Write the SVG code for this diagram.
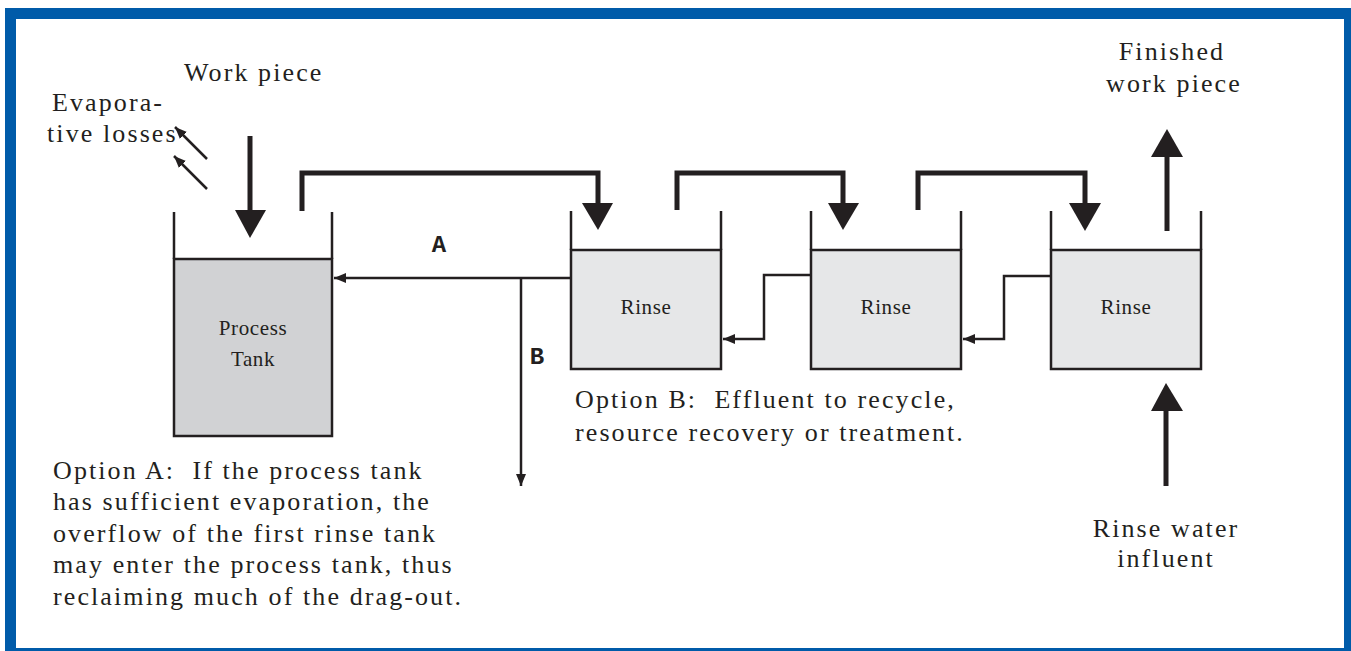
<svg xmlns="http://www.w3.org/2000/svg" width="1351" height="651" viewBox="0 0 1351 651">
<style>
.t{font-family:"Liberation Serif","Times New Roman",serif;font-size:26px;fill:#231f20;letter-spacing:2.1px;white-space:pre}
.s{font-family:"Liberation Serif","Times New Roman",serif;font-size:21px;fill:#231f20;letter-spacing:0.6px}
.m{font-family:"Liberation Mono","Courier New",monospace;font-size:24px;font-weight:bold;fill:#231f20}
.wall{fill:none;stroke:#231f20;stroke-width:2.5}
.thick{fill:none;stroke:#231f20;stroke-width:5}
.thin{fill:none;stroke:#231f20;stroke-width:2.5}
.head{fill:#231f20}
</style>
<defs>
<marker id="sm" viewBox="0 0 12 10" refX="12" refY="5" markerWidth="12" markerHeight="10" markerUnits="userSpaceOnUse" orient="auto">
<path d="M0,0 L12,5 L0,10 Z" fill="#231f20"/>
</marker>
</defs>
<rect x="5" y="8" width="1346" height="643" fill="#005ba9"/>
<rect x="16" y="19" width="1328" height="629" fill="#ffffff"/>

<g id="process-tank">
<rect x="174" y="259" width="158" height="177" fill="#d1d2d4" stroke="#231f20" stroke-width="2.5"/>
<path class="wall" d="M174,212 V259 M332,212 V259"/>
<text class="s" x="253" y="335" text-anchor="middle">Process</text>
<text class="s" x="253" y="366" text-anchor="middle">Tank</text>
</g>
<g id="rinse-1">
<rect x="571" y="250" width="150" height="119" fill="#e6e7e8" stroke="#231f20" stroke-width="2.5"/>
<path class="wall" d="M571,211 V250 M721,211 V250"/>
<text class="s" x="646" y="314" text-anchor="middle">Rinse</text>
</g>
<g id="rinse-2">
<rect x="811" y="250" width="150" height="119" fill="#e6e7e8" stroke="#231f20" stroke-width="2.5"/>
<path class="wall" d="M811,211 V250 M961,211 V250"/>
<text class="s" x="886" y="314" text-anchor="middle">Rinse</text>
</g>
<g id="rinse-3">
<rect x="1051" y="250" width="150" height="119" fill="#e6e7e8" stroke="#231f20" stroke-width="2.5"/>
<path class="wall" d="M1051,211 V250 M1201,211 V250"/>
<text class="s" x="1126" y="314" text-anchor="middle">Rinse</text>
</g>

<g id="connectors">
<path class="thick" d="M250,136 V212"/>
<path class="head" d="M235,210 L266,210 L250,238 Z"/>
<path class="thick" d="M302,211 V173 H598 V205"/>
<path class="head" d="M582,203 L613,203 L598,230 Z"/>
<path class="thick" d="M677,210 V173 H843 V205"/>
<path class="head" d="M828,203 L859,203 L843,230 Z"/>
<path class="thick" d="M918,210 V173 H1085 V205"/>
<path class="head" d="M1069,203 L1101,203 L1085,231 Z"/>
<path class="thick" d="M1167,231 V155"/>
<path class="head" d="M1151,157 L1183,157 L1167,129 Z"/>
<path class="thick" d="M1166,486 V409"/>
<path class="head" d="M1151,411 L1183,411 L1166,383 Z"/>
<path class="thin" d="M1051,276 H1004 V339 H963" marker-end="url(#sm)"/>
<path class="thin" d="M811,275 H764 V339 H723" marker-end="url(#sm)"/>
<path class="thin" d="M571,278 H334" marker-end="url(#sm)"/>
<path class="thin" d="M521,278 V486" marker-end="url(#sm)"/>
<path class="thin" d="M207,159 L175,127" marker-end="url(#sm)"/>
<path class="thin" d="M207,189 L174,156" marker-end="url(#sm)"/>
</g>

<g id="labels">
<text class="m" x="439" y="252" text-anchor="middle">A</text>
<text class="m" x="537" y="364" text-anchor="middle">B</text>
<text class="t" x="184" y="81">Work piece</text>
<text class="t" x="52" y="111">Evapora-</text>
<text class="t" x="47" y="142">tive losses</text>
<text class="t" x="1172" y="60" text-anchor="middle">Finished</text>
<text class="t" x="1174" y="92" text-anchor="middle">work piece</text>
<text class="t" x="1166" y="537" text-anchor="middle">Rinse water</text>
<text class="t" x="1166" y="567" text-anchor="middle">influent</text>
<text class="t" x="575" y="408" xml:space="preserve">Option B:  Effluent to recycle,</text>
<text class="t" x="575" y="441">resource recovery or treatment.</text>
<text class="t" x="53" y="479" xml:space="preserve">Option A:  If the process tank</text>
<text class="t" x="53" y="510">has sufficient evaporation, the</text>
<text class="t" x="53" y="542">overflow of the first rinse tank</text>
<text class="t" x="53" y="573">may enter the process tank, thus</text>
<text class="t" x="53" y="605">reclaiming much of the drag-out.</text>
</g>
</svg>
